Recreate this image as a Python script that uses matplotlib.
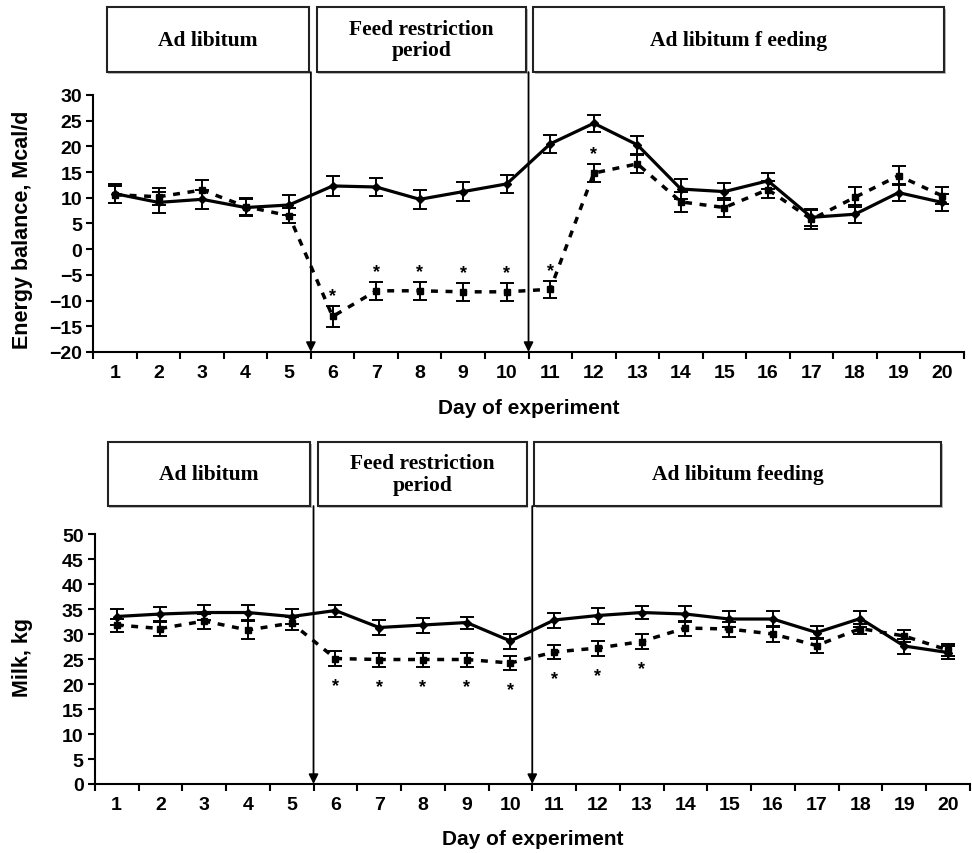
import matplotlib
matplotlib.use("Agg")
import matplotlib.pyplot as plt
import matplotlib.transforms as mtransforms
from matplotlib.patches import Rectangle
import numpy as np

days = list(range(1, 21))

# Energy balance (Mcal/d)
eb_ctrl = [10.8, 9.1, 9.7, 8.1, 8.6, 12.3, 12.1, 9.7, 11.2, 12.7,
           20.5, 24.5, 20.3, 11.7, 11.2, 13.3, 6.2, 6.8, 11.0, 9.1]
eb_ctrl_err = [1.8, 2.0, 1.9, 1.7, 1.9, 1.9, 1.8, 1.8, 1.8, 1.8,
               1.7, 1.7, 1.8, 1.9, 1.7, 1.6, 1.7, 1.8, 1.7, 1.7]
eb_rest = [10.6, 10.2, 11.5, 8.3, 6.5, -13.1, -8.1, -8.1, -8.3, -8.3,
           -7.8, 14.8, 16.6, 9.2, 8.1, 11.6, 5.8, 10.1, 14.3, 10.4]
eb_rest_err = [1.7, 1.7, 1.9, 1.7, 1.5, 2.0, 1.8, 1.8, 1.8, 1.7,
               1.7, 1.8, 1.7, 2.0, 1.9, 1.7, 1.8, 1.9, 1.9, 1.7]
eb_sig_days = [6, 7, 8, 9, 10, 11, 12]

# Milk (kg)
milk_ctrl = [33.5, 34.0, 34.3, 34.3, 33.5, 34.7, 31.3, 31.8, 32.3, 28.6,
             32.8, 33.7, 34.3, 34.0, 33.0, 33.0, 30.3, 33.1, 27.6, 26.3]
milk_ctrl_err = [1.6, 1.5, 1.5, 1.5, 1.5, 1.2, 1.5, 1.5, 1.2, 1.5,
                 1.5, 1.6, 1.3, 1.6, 1.6, 1.6, 1.3, 1.6, 1.5, 1.3]
milk_rest = [31.8, 31.1, 32.6, 30.8, 32.2, 25.1, 24.9, 24.9, 24.9, 24.2,
             26.4, 27.2, 28.5, 31.2, 31.0, 30.0, 27.7, 31.1, 29.6, 26.8]
milk_rest_err = [1.3, 1.5, 1.5, 1.8, 1.3, 1.5, 1.4, 1.4, 1.4, 1.4,
                 1.4, 1.5, 1.5, 1.5, 1.5, 1.6, 1.5, 1.0, 1.2, 1.2]
milk_sig_days = [6, 7, 8, 9, 10, 11, 12, 13]

top_periods = ["Ad libitum", "Feed restriction\nperiod", "Ad libitum f eeding"]
bot_periods = ["Ad libitum", "Feed restriction\nperiod", "Ad libitum feeding"]
top_box_x = [(0.82, 5.45), (5.63, 10.45), (10.61, 20.05)]
bot_box_x = [(0.80, 5.43), (5.60, 10.38), (10.55, 19.85)]
arrow_days = [5.5, 10.5]

SANS = "Liberation Sans"
SERIF = "Liberation Serif"

fig = plt.figure(figsize=(9.72, 8.54), dpi=100)
ax1 = fig.add_axes([0.0959, 0.5867, 0.8957, 0.3009])
ax2 = fig.add_axes([0.0975, 0.0808, 0.9002, 0.2927])


def style_axes(ax, ylim, yticks, ylabel, ylab_xy, xlab_y):
    ax.set_xlim(0.5, 20.5)
    ax.set_ylim(*ylim)
    ax.set_yticks(yticks)
    ax.set_xticks(days)
    ax.set_xticks(np.arange(0.5, 21, 1), minor=True)
    ax.tick_params(axis="x", which="major", length=0, pad=9)
    ax.tick_params(axis="x", which="minor", length=5, width=1.5, direction="out")
    ax.tick_params(axis="y", length=5, width=1.5, direction="out", pad=3)
    for lab in ax.get_xticklabels() + ax.get_yticklabels():
        lab.set_fontfamily(SANS)
        lab.set_fontweight("bold")
        lab.set_fontsize(14)
    ax.spines["top"].set_visible(False)
    ax.spines["right"].set_visible(False)
    ax.spines["left"].set_linewidth(1.5)
    ax.spines["bottom"].set_linewidth(1.5)
    ax.set_xlabel("Day of experiment", fontfamily=SANS, fontweight="bold",
                  fontsize=15)
    ax.xaxis.set_label_coords(0.5, xlab_y)
    ax.set_ylabel(ylabel, fontfamily=SANS, fontweight="bold", fontsize=15.5)
    ax.yaxis.set_label_coords(*ylab_xy)


def draw_series(ax, c, ce, r, re):
    ax.errorbar(days, c, yerr=ce, color="black", lw=2.3, marker="D",
                markersize=4.5, capsize=5, elinewidth=1.4, capthick=1.4,
                zorder=3)
    ax.errorbar(days, r, yerr=re, color="black", lw=2.5, ls=(0, (2.0, 2.2)),
                marker="s", markersize=4.5, capsize=5, elinewidth=1.4,
                capthick=1.4, zorder=3)


def draw_boxes(ax, box_x, labels, y0, y1, arrow_top):
    trans = mtransforms.blended_transform_factory(ax.transData, ax.transAxes)
    for (xa, xb), lab in zip(box_x, labels):
        ax.add_patch(Rectangle((xa + 0.03, y0 - 0.008), xb - xa, y1 - y0,
                               transform=trans, clip_on=False,
                               facecolor="#bbbbbb", edgecolor="none", zorder=4))
        ax.add_patch(Rectangle((xa, y0), xb - xa, y1 - y0, transform=trans,
                               clip_on=False, facecolor="white",
                               edgecolor="#222222", lw=1.5, zorder=5))
        ax.text((xa + xb) / 2, (y0 + y1) / 2, lab, transform=trans,
                ha="center", va="center", fontfamily=SERIF,
                fontweight="bold", fontsize=15.5, linespacing=1.1, zorder=6)
    for d in arrow_days:
        ax.annotate("", xy=(d, 0.0), xytext=(d, arrow_top),
                    xycoords=trans, textcoords=trans,
                    arrowprops=dict(arrowstyle="-|>", color="black", lw=1.3,
                                    mutation_scale=14, shrinkA=0, shrinkB=0),
                    annotation_clip=False, zorder=6)


# Top panel
style_axes(ax1, (-20, 30), np.arange(-20, 31, 5), "Energy balance, Mcal/d",
           (-0.069, 0.479), -0.178)
draw_series(ax1, eb_ctrl, eb_ctrl_err, eb_rest, eb_rest_err)
for d in eb_sig_days:
    i = d - 1
    ax1.text(d, eb_rest[i] + eb_rest_err[i] + 2.0, "*", ha="center",
             va="center", fontfamily=SANS, fontsize=13, fontweight="bold")
draw_boxes(ax1, top_box_x, top_periods, 1.089, 1.342, 1.089)

# Bottom panel
style_axes(ax2, (0, 50), np.arange(0, 51, 5), "Milk, kg",
           (-0.0706, 0.51), -0.18)
draw_series(ax2, milk_ctrl, milk_ctrl_err, milk_rest, milk_rest_err)
for d in milk_sig_days:
    i = d - 1
    ax2.text(d, milk_rest[i] - milk_rest_err[i] - 4.0, "*", ha="center",
             va="center", fontfamily=SANS, fontsize=13, fontweight="bold")
draw_boxes(ax2, bot_box_x, bot_periods, 1.112, 1.368, 1.112)

fig.savefig("out.png", dpi=100)
